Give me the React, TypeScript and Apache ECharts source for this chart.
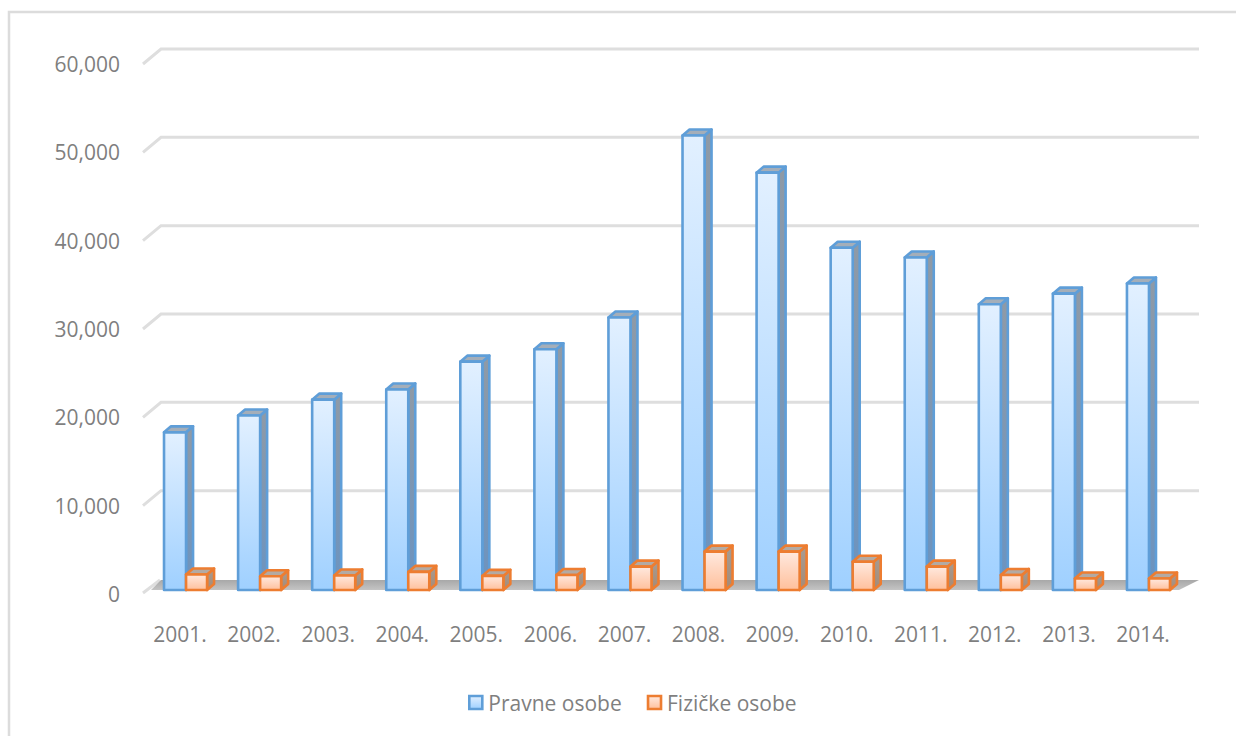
import React, { useEffect, useRef } from "react";
import * as echarts from "echarts";

const years = ["2001.", "2002.", "2003.", "2004.", "2005.", "2006.", "2007.", "2008.", "2009.", "2010.", "2011.", "2012.", "2013.", "2014."];
const pravne = [17850, 19750, 21550, 22700, 25850, 27250, 30850, 51450, 47250, 38750, 37650, 32350, 33550, 34700];
const fizicke = [1750, 1550, 1650, 2050, 1600, 1700, 2650, 4350, 4350, 3200, 2650, 1700, 1300, 1300];
const ticks = [0, 10000, 20000, 30000, 40000, 50000, 60000];

const grad = (a: string, b: string) =>
  new echarts.graphic.LinearGradient(0, 0, 0, 1, [
    { offset: 0, color: a },
    { offset: 1, color: b },
  ]);

const blueStyle = { front: ["#e2f0ff", "#9fd0ff"], side: ["#8f9aa6", "#6b93c0"], top: "#a4aeb9", line: "#5f9ed8" };
const orangeStyle = { front: ["#ffe9df", "#ffc09c"], side: ["#a79c93", "#a58a76"], top: "#b3aaa3", line: "#ed7d31" };

function bar3d(off0: number, off1: number, st: typeof blueStyle) {
  return (params: any, api: any) => {
    const idx = api.value(0);
    const val = api.value(1);
    const base = api.coord([idx, 0]);
    const tip = api.coord([idx, val]);
    const band = api.size([1, 0])[0];
    const x0 = base[0] + band * off0;
    const x1 = base[0] + band * off1;
    const yb = base[1] - 4;
    const yt = tip[1] - 4;
    const dx = 7;
    const dy = 6;
    const ls = { stroke: st.line, lineWidth: 2.6, lineJoin: "round" };
    return {
      type: "group",
      children: [
        {
          type: "polygon",
          shape: { points: [[x1, yt], [x1 + dx, yt - dy], [x1 + dx, yb - dy], [x1, yb]] },
          style: { fill: grad(st.side[0], st.side[1]), ...ls },
        },
        {
          type: "polygon",
          shape: { points: [[x0, yt], [x0 + dx, yt - dy], [x1 + dx, yt - dy], [x1, yt]] },
          style: { fill: st.top, ...ls },
        },
        {
          type: "rect",
          shape: { x: x0, y: yt, width: x1 - x0, height: yb - yt },
          style: { fill: grad(st.front[0], st.front[1]), ...ls },
        },
      ],
    };
  };
}

export default function App() {
  const ref = useRef<HTMLDivElement>(null);
  useEffect(() => {
    document.body.style.margin = "0";
    const chart = echarts.init(ref.current!, undefined, { renderer: "svg" });
    chart.setOption({
      animation: false,
      backgroundColor: "#ffffff",
      textStyle: { fontFamily: "Open Sans" },
      grid: { left: 143, top: 64, width: 1037, height: 530 },
      legend: {
        left: 463,
        top: 687,
        itemWidth: 13,
        itemHeight: 13,
        itemGap: 25,
        icon: "rect",
        textStyle: { color: "#7f7f7f", fontSize: 21, fontFamily: "Open Sans", padding: [0, 0, 0, 1] },
        data: [
          { name: "Pravne osobe", itemStyle: { color: grad("#e2f0ff", "#9fd0ff"), borderColor: "#5f9ed8", borderWidth: 2.6 } },
          { name: "Fizičke osobe", itemStyle: { color: grad("#ffe9df", "#ffc09c"), borderColor: "#ed7d31", borderWidth: 2.6 } },
        ],
      },
      xAxis: {
        type: "category",
        data: years,
        axisLine: { show: false },
        axisTick: { show: false },
        axisLabel: { color: "#7f7f7f", fontSize: 21, fontFamily: "Open Sans", margin: 29 },
      },
      yAxis: {
        type: "value",
        min: 0,
        max: 60000,
        interval: 10000,
        axisLine: { show: false },
        axisTick: { show: false },
        splitLine: { show: false },
        axisLabel: {
          color: "#7f7f7f",
          fontSize: 21,
          fontFamily: "Open Sans",
          margin: 23,
          formatter: (v: number) => v.toLocaleString("en-US"),
        },
      },
      graphic: [
        {
          type: "polyline",
          silent: true,
          z: -1,
          shape: { points: [[9, 742], [9, 12], [1240, 12]] },
          style: { fill: "none", stroke: "#dcdcdc", lineWidth: 2.5 },
        },
      ],
      series: [
        {
          type: "custom",
          name: "grid",
          z: 1,
          silent: true,
          data: ticks.map((t) => [0, t]),
          encode: { x: 0, y: 1 },
          renderItem: (params: any, api: any) => {
            const p = api.coord([0, api.value(1)]);
            const band = api.size([1, 0])[0];
            const x0 = p[0] - band / 2;
            const y = p[1];
            const v = api.value(1);
            const children: any[] = [
              {
                type: "polyline",
                shape: {
                  points:
                    v === 0
                      ? [[x0, y - 1], [x0 + 17, y - 14]]
                      : [[x0, y], [x0 + 18, y - 15], [x0 + 1056, y - 15]],
                },
                style: { fill: "none", stroke: "#dedede", lineWidth: 3 },
              },
            ];
            if (v === 0) {
              children.push({
                type: "polygon",
                shape: { points: [[x0 + 18, y - 14], [x0 + 1056, y - 14], [x0 + 1036, y - 4], [x0 + 8, y - 4]] },
                style: { fill: grad("#a8a8a8", "#c4c4c4") },
              });
            }
            return { type: "group", children };
          },
        },
        {
          type: "custom",
          name: "Pravne osobe",
          z: 2,
          itemStyle: { color: "#5f9ed8" },
          data: pravne.map((v, i) => [i, v]),
          encode: { x: 0, y: 1 },
          renderItem: bar3d(-16 / 74, 6 / 74, blueStyle),
        },
        {
          type: "custom",
          name: "Fizičke osobe",
          z: 3,
          itemStyle: { color: "#ed7d31" },
          data: fizicke.map((v, i) => [i, v]),
          encode: { x: 0, y: 1 },
          renderItem: bar3d(6 / 74, 27 / 74, orangeStyle),
        },
      ],
    });
    return () => chart.dispose();
  }, []);
  return <div ref={ref} style={{ position: "absolute", left: 0, top: 0, width: 1236, height: 736 }} />;
}
